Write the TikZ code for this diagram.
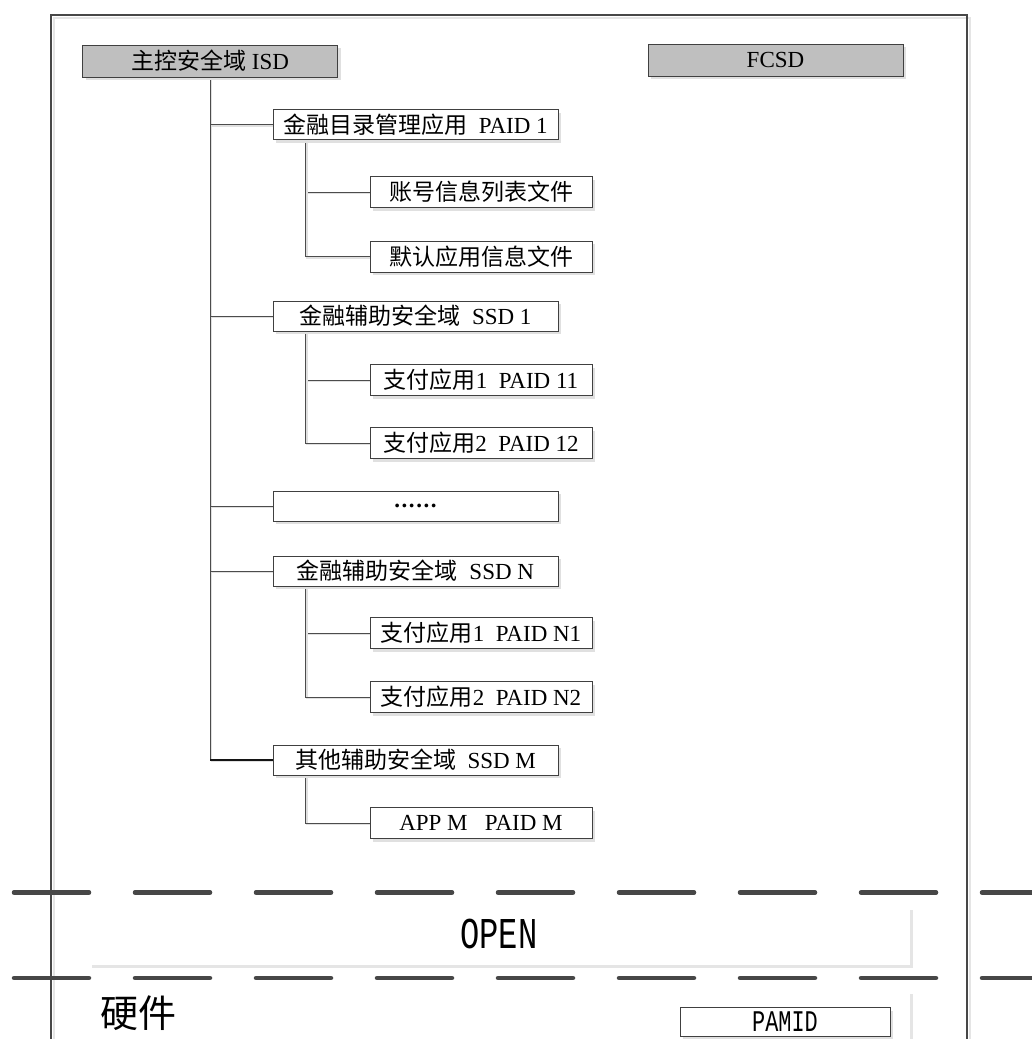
\documentclass[tikz,border=0pt]{standalone}
\usepackage{fontspec}
\setmainfont{Liberation Serif}
\newfontfamily\cjkfont{Noto Sans CJK SC}
\newfontfamily\narrowfont[FakeStretch=0.73]{Liberation Mono}
\newcommand\zh[1]{{\cjkfont #1}}
\newcommand\sixdots{\raisebox{0.5pt}{\bfseries .\hspace{1.6pt}.\hspace{1.6pt}.\hspace{1.6pt}.\hspace{1.6pt}.\hspace{1.6pt}.}}
\usetikzlibrary{shadows,backgrounds}
\begin{document}
\begin{tikzpicture}[x=1pt,y=-1pt,
  sh/.style={drop shadow={shadow xshift=3pt,shadow yshift=-3pt,fill=black!12,opacity=1}},
  box/.style={draw=black!75,line width=0.9pt,fill=white,sh,inner sep=0pt,font=\fontsize{23}{23}\selectfont},
  graybox/.style={box,fill=black!25,minimum width=255pt,minimum height=32pt},
  lvlone/.style={box,minimum width=285pt,minimum height=30pt},
  lvltwo/.style={box,minimum width=222pt,minimum height=31pt},
  conn/.style={draw=black!70,line width=0.9pt,
    preaction={draw=black!12,line width=1.6pt,transform canvas={shift={(1.5pt,-1.5pt)}}}},
  dashline/.style={draw=black!72,line width=4.5pt,line cap=round,dash pattern=on 75pt off 46pt},
  shadowline/.style={draw=black!10,line width=3pt},
  framestyle/.style={draw=black!72,line width=1.2pt},
]
\useasboundingbox (0,0) rectangle (1032,1039);

% outer frame
\draw[shadowline,line width=2pt] (54,1039) -- (54,18) -- (970,18) -- (970,1039);
\draw[framestyle] (51,1039) -- (51,15) -- (967,15) -- (967,1039);

% top boxes
\node[graybox] (isd) at (210,61) {\zh{主控安全域} ISD};
\node[graybox] (fcsd) at (775.5,60) {FCSD};

% level one
\node[lvlone] (p1) at (415.5,124.5) {\zh{金融目录管理应用}\ \ PAID 1};
\node[lvlone] (s1) at (415.5,316) {\zh{金融辅助安全域}\ \ SSD 1};
\node[lvlone] (dots) at (415.5,506) {\sixdots};
\node[lvlone] (sn) at (415.5,571) {\zh{金融辅助安全域}\ \ SSD N};
\node[lvlone] (sm) at (415.5,760) {\zh{其他辅助安全域}\ \ SSD M};

% level two
\node[lvltwo] (a1) at (481,192) {\zh{账号信息列表文件}};
\node[lvltwo] (a2) at (481,256.5) {\zh{默认应用信息文件}};
\node[lvltwo] (b1) at (481,380) {\zh{支付应用}1\ \ PAID 11};
\node[lvltwo] (b2) at (481,443) {\zh{支付应用}2\ \ PAID 12};
\node[lvltwo] (c1) at (481,633) {\zh{支付应用}1\ \ PAID N1};
\node[lvltwo] (c2) at (481,697) {\zh{支付应用}2\ \ PAID N2};
\node[lvltwo] (m1) at (481,823) {APP M\ \ \ PAID M};

% junction points of sub-trunks
\path (p1.south west) ++(33,0) coordinate (p1j);
\path (s1.south west) ++(33,0) coordinate (s1j);
\path (sn.south west) ++(33,0) coordinate (snj);
\path (sm.south west) ++(33,0) coordinate (smj);

\begin{scope}[on background layer]
  \fill[white] (0,0) rectangle (1032,1039);
  \draw[conn] (isd.south) -- (isd.south |- sm.west);
  \draw[conn,draw=black!92,line width=1.3pt] (isd.south |- sm.west) -- (sm.west);
  \draw[conn] (isd.south |- p1.west) -- (p1.west);
  \draw[conn] (isd.south |- s1.west) -- (s1.west);
  \draw[conn] (isd.south |- dots.west) -- (dots.west);
  \draw[conn] (isd.south |- sn.west) -- (sn.west);
  \draw[conn] (p1j) |- (a1.west);
  \draw[conn] (p1j) |- (a2.west);
  \draw[conn] (s1j) |- (b1.west);
  \draw[conn] (s1j) |- (b2.west);
  \draw[conn] (snj) |- (c1.west);
  \draw[conn] (snj) |- (c2.west);
  \draw[conn] (smj) |- (m1.west);
\end{scope}

% layer separators
\draw[dashline] (14,892.5) -- (1032,892.5);
\draw[dashline] (14,978) -- (1032,978);

% OPEN layer
\draw[shadowline] (92,966) -- (911,966) -- (911,910);
\node[font=\narrowfont\fontsize{44}{44}\selectfont] (open) at (499,934) {OPEN};

% hardware layer
\draw[shadowline] (911,994) -- (911,1039);
\node[font=\cjkfont\fontsize{38}{38}\selectfont] (hw) at (138,1013) {硬件};
\node[box,minimum width=210pt,minimum height=29pt,font=\narrowfont\fontsize{30}{30}\selectfont] (pamid) at (785,1022) {PAMID};
\end{tikzpicture}
\end{document}
